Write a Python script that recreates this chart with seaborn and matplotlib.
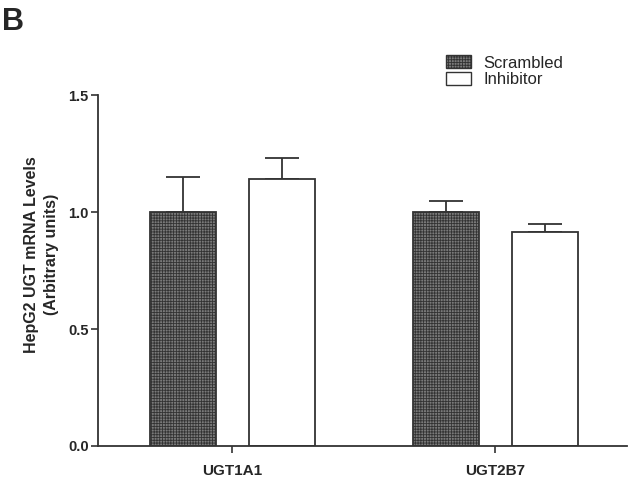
import pandas as pd
import seaborn as sns
import matplotlib
matplotlib.use('Agg')
import matplotlib.pyplot as plt
from matplotlib.patches import Patch

genes = ['UGT1A1', 'UGT2B7']
groups = ['Scrambled', 'Inhibitor']
scrambled_mean = [1.0, 1.0]
scrambled_sem = [0.152, 0.048]
inhibitor_mean = [1.141, 0.916]
inhibitor_sem = [0.091, 0.033]
y_ticks = [0.0, 0.5, 1.0, 1.5]
y_label = 'HepG2 UGT mRNA Levels\n(Arbitrary units)'

df = pd.DataFrame({
    'gene': genes * 2,
    'group': [groups[0]] * 2 + [groups[1]] * 2,
    'mean': scrambled_mean + inhibitor_mean,
    'sem': scrambled_sem + inhibitor_sem,
})

sns.set_style('ticks')
plt.rcParams['font.family'] = ['Liberation Sans', 'DejaVu Sans']
plt.rcParams['hatch.linewidth'] = 0.6
plt.rcParams['hatch.color'] = '#111111'

fig = plt.figure(figsize=(6.3, 4.78), dpi=100)
ax = fig.add_axes([0.156, 0.067, 0.839, 0.734])

sns.barplot(data=df, x='gene', y='mean', hue='group', order=genes, hue_order=groups,
            palette={'Scrambled': '#7a7a7a', 'Inhibitor': 'white'},
            width=0.75, gap=0.33, edgecolor='#333333', linewidth=1.3,
            errorbar=None, legend=False, ax=ax, zorder=2)

# hatch the scrambled bars, add upper-only error bars
n = len(genes)
for i, bar in enumerate(ax.patches[:2 * n]):
    row = df.iloc[i]
    if row['group'] == 'Scrambled':
        bar.set_hatch('++++++')
    xc = bar.get_x() + bar.get_width() / 2
    ax.errorbar(xc, row['mean'], yerr=[[0], [row['sem']]], fmt='none',
                ecolor='#333333', elinewidth=1.3, capsize=12, capthick=1.3, zorder=1)

ax.set_xlim(-0.51, 1.5)
ax.set_ylim(0, 1.5)
ax.set_yticks(y_ticks)
ax.set_yticklabels([f'{t:.1f}' for t in y_ticks], fontweight='bold', fontsize=10.5)
ax.set_xticks(range(n))
ax.set_xticklabels(genes, fontweight='bold', fontsize=11)
ax.set_xlabel('')
ax.set_ylabel(y_label, fontweight='bold', fontsize=11.5, linespacing=1.35)
ax.yaxis.set_label_coords(-0.075, 0.545)
ax.tick_params(axis='y', length=5, width=1.2, color='#333333', pad=2)
ax.tick_params(axis='x', length=5, width=1.2, color='#333333', pad=8)
sns.despine(ax=ax)
for s in ['left', 'bottom']:
    ax.spines[s].set_linewidth(1.3)
    ax.spines[s].set_color('#333333')

handles = [Patch(facecolor='#7a7a7a', edgecolor='#333333', hatch='++++++', label='Scrambled'),
           Patch(facecolor='white', edgecolor='#333333', label='Inhibitor')]
fig.legend(handles=handles, loc='upper left', bbox_to_anchor=(0.698, 0.898),
           frameon=False, fontsize=12, handlelength=1.5, handleheight=0.8,
           handletextpad=0.7, labelspacing=0.1, borderaxespad=0)

fig.text(0.003, 0.985, 'B', fontsize=22, fontweight='bold', va='top', ha='left')

fig.savefig('out.png', dpi=100)
